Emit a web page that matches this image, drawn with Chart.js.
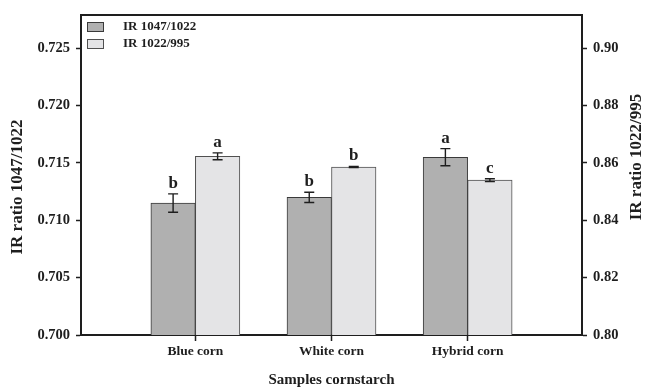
<!DOCTYPE html>
<html>
<head>
<meta charset="utf-8">
<script src="https://cdn.jsdelivr.net/npm/chart.js@4.4.1/dist/chart.umd.min.js"></script>
<style>
  html, body { margin: 0; padding: 0; background: #ffffff; }
  #wrap { width: 645px; height: 388px; position: relative; }
</style>
</head>
<body>
<div id="wrap"><canvas id="c"></canvas></div>
<script>
// Sample groups and their positions on the x axis
const categories = ['Blue corn', 'White corn', 'Hybrid corn'];
const categoryPos = [1, 2, 3];

// Series (legend) names
const seriesNames = ['IR 1047/1022', 'IR 1022/995'];

// IR ratio 1047/1022 (left axis): means, standard deviations, significance letters
const ratio1047 = [0.7115, 0.7120, 0.7155];
const ratio1047Err = [0.0008, 0.00045, 0.00075];
const letters1047 = ['b', 'b', 'a'];

// IR ratio 1022/995 (right axis): means, standard deviations, significance letters
const ratio1022 = [0.8623, 0.8586, 0.8540];
const ratio1022Err = [0.0012, 0.0002, 0.0005];
const letters1022 = ['a', 'b', 'c'];

// Axis tick values
const leftTicks = [0.700, 0.705, 0.710, 0.715, 0.720, 0.725];
const rightTicks = [0.80, 0.82, 0.84, 0.86, 0.88, 0.90];

// Axis titles
const xTitle = 'Samples cornstarch';
const leftTitle = 'IR ratio 1047/1022';
const rightTitle = 'IR ratio 1022/995';

const SERIF = "'Liberation Serif', 'Times New Roman', serif";
const INK = '#1e1e1e';
const fills = ['#b0b0b0', '#e4e4e6'];
const borders = ['#3a3a3a', '#505050'];

const errs = [ratio1047Err, ratio1022Err];
const letters = [letters1047, letters1022];

// Error bars and significance letters above each bar
const errorBarPlugin = {
  id: 'errorBars',
  afterDatasetsDraw(chart) {
    const ctx = chart.ctx;
    chart.data.datasets.forEach((ds, di) => {
      const meta = chart.getDatasetMeta(di);
      const yScale = chart.scales[ds.yAxisID];
      meta.data.forEach((bar, i) => {
        const v = ds.data[i].y;
        const e = errs[di][i];
        const x = bar.x;
        const yTop = yScale.getPixelForValue(v + e);
        const yBot = yScale.getPixelForValue(v - e);
        ctx.save();
        ctx.strokeStyle = INK;
        ctx.lineWidth = 1.4;
        ctx.beginPath();
        ctx.moveTo(x, yTop); ctx.lineTo(x, yBot);
        ctx.moveTo(x - 5, yTop); ctx.lineTo(x + 5, yTop);
        ctx.moveTo(x - 5, yBot); ctx.lineTo(x + 5, yBot);
        ctx.stroke();
        ctx.fillStyle = INK;
        ctx.font = 'bold 17px ' + SERIF;
        ctx.textAlign = 'center';
        ctx.textBaseline = 'alphabetic';
        ctx.fillText(letters[di][i], x, yTop - 6);
        ctx.restore();
      });
    });
  }
};

// Plot frame, legend and axis titles
const framePlugin = {
  id: 'frame',
  afterDraw(chart) {
    const ctx = chart.ctx;
    const a = chart.chartArea;
    ctx.save();
    ctx.strokeStyle = INK;
    ctx.lineWidth = 2;
    ctx.beginPath();
    ctx.moveTo(a.left - 1, a.top);
    ctx.lineTo(a.right + 1, a.top);
    ctx.stroke();

    // legend
    ctx.font = 'bold 13px ' + SERIF;
    ctx.textBaseline = 'middle';
    ctx.textAlign = 'left';
    seriesNames.forEach((name, i) => {
      const y = a.top + 7 + i * 17;
      ctx.fillStyle = fills[i];
      ctx.fillRect(a.left + 6, y, 16, 9);
      ctx.strokeStyle = borders[i];
      ctx.lineWidth = 1;
      ctx.strokeRect(a.left + 6.5, y + 0.5, 16, 9);
      ctx.fillStyle = INK;
      ctx.fillText(name, a.left + 42, y + 5);
    });

    // axis titles
    ctx.fillStyle = INK;
    ctx.textAlign = 'center';
    ctx.textBaseline = 'middle';
    ctx.font = 'bold 15px ' + SERIF;
    ctx.fillText(xTitle, (a.left + a.right) / 2, 380);

    ctx.font = 'bold 17px ' + SERIF;
    ctx.save();
    ctx.translate(18, 187);
    ctx.rotate(-Math.PI / 2);
    ctx.fillText(leftTitle, 0, 0);
    ctx.restore();

    ctx.save();
    ctx.translate(637, 157);
    ctx.rotate(-Math.PI / 2);
    ctx.fillText(rightTitle, 0, 0);
    ctx.restore();
    ctx.restore();
  }
};

const toPoints = (vals) => vals.map((v, i) => ({ x: categoryPos[i], y: v }));

new Chart(document.getElementById('c'), {
  type: 'bar',
  data: {
    datasets: [
      {
        label: seriesNames[0],
        data: toPoints(ratio1047),
        yAxisID: 'yLeft',
        backgroundColor: fills[0],
        borderColor: borders[0],
        borderWidth: 1,
        borderSkipped: false,
        barThickness: 44.5
      },
      {
        label: seriesNames[1],
        data: toPoints(ratio1022),
        yAxisID: 'yRight',
        backgroundColor: fills[1],
        borderColor: borders[1],
        borderWidth: 1,
        borderSkipped: false,
        barThickness: 44.5
      }
    ]
  },
  options: {
    responsive: true,
    maintainAspectRatio: false,
    animation: false,
    devicePixelRatio: 1,
    layout: { padding: { top: 15, left: 0, right: 0, bottom: 0 } },
    plugins: {
      legend: { display: false },
      tooltip: { enabled: false },
      title: { display: false }
    },
    scales: {
      x: {
        type: 'linear',
        min: 0.16,
        max: 3.84,
        offset: false,
        afterBuildTicks: (s) => { s.ticks = categoryPos.map(v => ({ value: v })); },
        afterFit: (s) => { s.height = 53; },
        ticks: {
          callback: (v) => categories[categoryPos.indexOf(v)] || '',
          color: INK,
          font: { family: SERIF, size: 13.5, weight: 'bold' },
          padding: 2,
          maxRotation: 0,
          autoSkip: false
        },
        grid: { offset: false, drawOnChartArea: false, drawTicks: true, tickLength: 6, tickColor: INK, tickWidth: 1.5 },
        border: { display: true, color: INK, width: 2 }
      },
      yLeft: {
        type: 'linear',
        position: 'left',
        min: 0.700,
        max: 0.7279,
        afterBuildTicks: (s) => { s.ticks = leftTicks.map(v => ({ value: v })); },
        afterFit: (s) => { s.width = 81; },
        ticks: {
          callback: (v) => v.toFixed(3),
          color: INK,
          font: { family: SERIF, size: 14.5, weight: 'bold' },
          padding: 6
        },
        grid: { drawOnChartArea: false, drawTicks: true, tickLength: 5, tickColor: INK, tickWidth: 1.5 },
        border: { display: true, color: INK, width: 2 }
      },
      yRight: {
        type: 'linear',
        position: 'right',
        min: 0.80,
        max: 0.9116,
        afterBuildTicks: (s) => { s.ticks = rightTicks.map(v => ({ value: v })); },
        afterFit: (s) => { s.width = 63; },
        ticks: {
          callback: (v) => v.toFixed(2),
          color: INK,
          font: { family: SERIF, size: 14.5, weight: 'bold' },
          padding: 6
        },
        grid: { drawOnChartArea: false, drawTicks: true, tickLength: 5, tickColor: INK, tickWidth: 1.5 },
        border: { display: true, color: INK, width: 2 }
      }
    }
  },
  plugins: [errorBarPlugin, framePlugin]
});
</script>
</body>
</html>
